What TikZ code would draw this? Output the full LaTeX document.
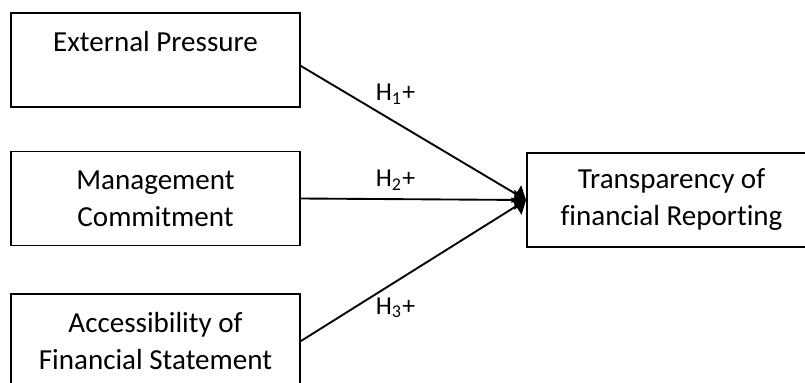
\documentclass[tikz,border=0pt]{standalone}
\usepackage{fontspec}
\setmainfont{Carlito}[Ligatures=NoCommon]
\usetikzlibrary{arrows.meta}

\begin{document}
\begin{tikzpicture}[x=0.015cm, y=-0.015cm, line width=0.8pt,
        var/.style={draw, rectangle, align=center, minimum width=4.335cm, minimum height=1.41cm, font=\fontsize{12.4}{15.8}\selectfont},
        hyp/.style={font=\fontsize{11}{13}\selectfont},
        >={Triangle[length=5pt, width=8.5pt]}]
        \useasboundingbox (0,0) rectangle (805,382);
        \node[var] (ep) at (155.5,60) {External Pressure\\ \mbox{}};
        \node[var] (mc) at (155.5,198.5) {Management\\ Commitment};
        \node[var] (afs) at (155.5,341) {Accessibility of\\ Financial Statement};
        \node[var] (tfr) at (671.5,200) {Transparency of\\ financial Reporting};
        
        \draw[->] ([yshift=-0.09cm]ep.east) -- (tfr.west) node[pos=0.42, above=4pt, hyp] {H\textsubscript{1}+};
        \draw[->] (mc.east) -- (tfr.west) node[pos=0.42, above, hyp] {H\textsubscript{2}+};
        \draw[->] (afs.east) -- (tfr.west) node[pos=0.42, below=3pt, hyp] {H\textsubscript{3}+};
    \end{tikzpicture}
\end{document}
